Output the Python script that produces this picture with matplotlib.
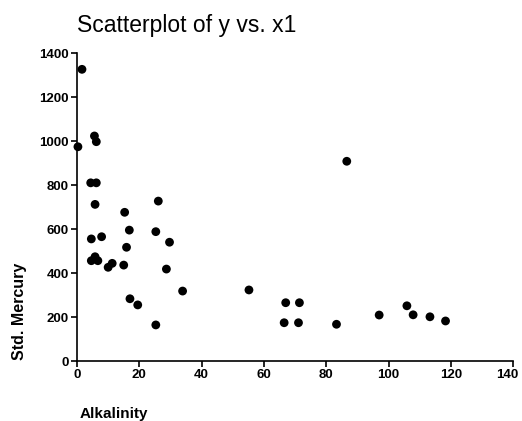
import matplotlib
matplotlib.use('AGG')
import matplotlib.pyplot as plt
from matplotlib.transforms import ScaledTranslation

# alkalinity (x1) and standardized mercury (y)
alkalinity = [1.6, 0.3, 5.6, 6.2, 4.4, 6.2, 5.8, 4.6, 7.9, 5.8, 4.6, 6.7,
              10.0, 11.3, 15.0, 15.3, 16.8, 15.9, 26.1, 25.3, 29.7, 28.7,
              17.0, 19.5, 25.3, 33.9, 55.2, 67.0, 71.4, 66.5, 71.1, 83.3,
              86.6, 97.0, 105.9, 107.9, 113.3, 118.3]
mercury = [1326, 974, 1023, 997, 810, 810, 712, 555, 565, 474, 456, 456,
           426, 444, 436, 676, 595, 517, 727, 588, 540, 418,
           283, 255, 164, 318, 323, 265, 265, 174, 174, 167,
           908, 209, 251, 210, 201, 182]

x_ticks = [0, 20, 40, 60, 80, 100, 120, 140]
y_ticks = [0, 200, 400, 600, 800, 1000, 1200, 1400]

plt.rcParams['font.family'] = ['Liberation Sans', 'DejaVu Sans']

fig = plt.figure(figsize=(5.22, 4.21), dpi=100)
ax = fig.add_axes([0.1475, 0.1425, 0.8355, 0.7315])

ax.scatter(alkalinity, mercury, s=40, color='black', edgecolors='none',
           clip_on=False, zorder=3)

ax.set_xlim(0, 140)
ax.set_ylim(0, 1400)
ax.set_xticks(x_ticks)
ax.set_yticks(y_ticks)

# only left and bottom axis lines, like the old stats package output
ax.spines['top'].set_visible(False)
ax.spines['right'].set_visible(False)
ax.spines['left'].set_linewidth(1.2)
ax.spines['bottom'].set_linewidth(1.2)
ax.tick_params(direction='out', length=4, width=1.2, pad=2)
for lab in ax.get_xticklabels() + ax.get_yticklabels():
    lab.set_fontsize(9.5)
    lab.set_fontweight('bold')

# last x label sits at the figure edge, nudge it left so it is not cut
last = ax.get_xticklabels()[-1]
last.set_transform(last.get_transform() +
                   ScaledTranslation(-4 / 72, 0, fig.dpi_scale_trans))

fig.text(0.1475, 0.94, 'Scatterplot of y vs. x1', fontsize=16.5,
         ha='left', va='center')
fig.text(0.152, 0.017, 'Alkalinity', fontsize=11, fontweight='bold',
         ha='left', va='center')
fig.text(0.038, 0.26, 'Std. Mercury', fontsize=11.5, fontweight='bold',
         rotation=90, ha='center', va='center')

plt.savefig('out.png', dpi=100)
